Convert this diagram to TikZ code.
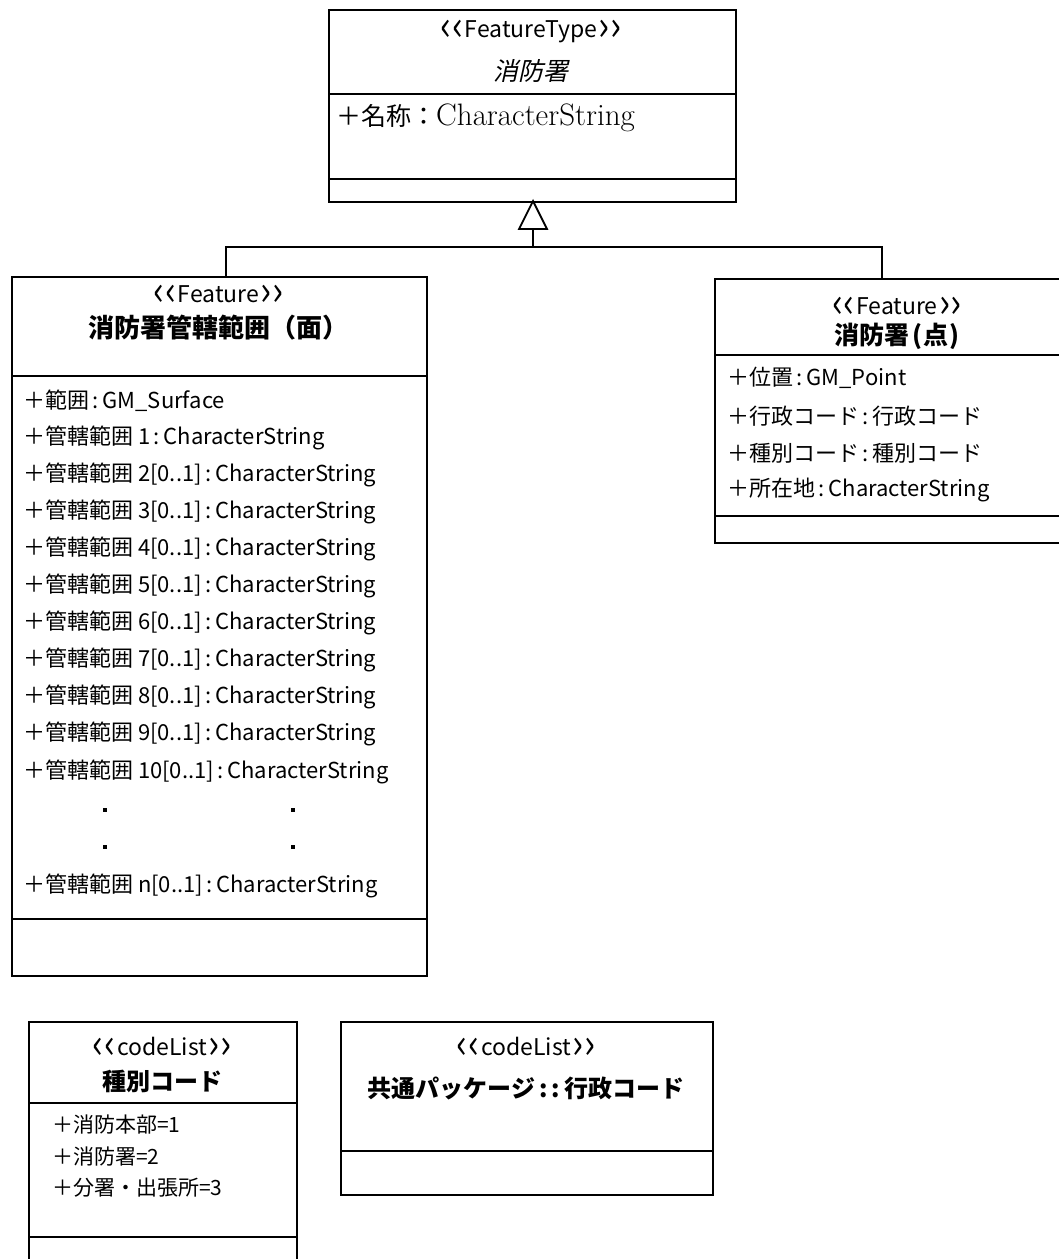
\documentclass[tikz,border=0pt]{standalone}
\usepackage{graphicx}
\usepackage{fontspec}
\setmainfont{Noto Sans CJK JP}
\newfontfamily\jpslant{Noto Sans CJK JP}[FakeSlant=0.22]
\newcommand{\lch}{\raisebox{-0.13em}{\scalebox{1.6}[1.8]{‹}}}
\newcommand{\rch}{\raisebox{-0.13em}{\scalebox{1.6}[1.8]{›}}}
\newcommand{\stq}[1]{\lch\kern0.03em\lch\kern0.06em #1\kern0.06em\rch\kern0.03em\rch}
\begin{document}
\begin{tikzpicture}[x=1pt,y=-1pt,
  boxline/.style={draw=black, line width=1.8pt},
  classbox/.style={boxline, inner sep=0pt, anchor=north west, fill=none},
  stereo/.style={inner sep=0pt, font=\fontsize{23}{27}\selectfont},
  titleb/.style={inner sep=0pt, font=\fontsize{25}{30}\selectfont\bfseries},
  attr/.style={inner sep=0pt, anchor=west, font=\fontsize{22}{26}\selectfont},
  cattr/.style={inner sep=0pt, anchor=west, font=\fontsize{21}{25}\selectfont},
  dotmark/.style={fill=black, inner sep=0pt, minimum size=4pt},
  conn/.style={draw=black, line width=1.8pt},
  gentip/.style={draw=black, line width=1.8pt, fill=white}
]
\useasboundingbox (0,0) rectangle (1059,1259);
\clip (0,0) rectangle (1059,1259);

% ---------- top class: FeatureType 消防署 ----------
\node[classbox, minimum width=407pt, minimum height=192pt] (ft) at (328,9) {};
\draw[boxline] (ft.west |- 0,94) -- (ft.east |- 0,94);
\draw[boxline] (ft.west |- 0,179) -- (ft.east |- 0,179);
\node[stereo] (ftst) at (531,32) {\stq{FeatureType}};
\node[inner sep=0pt, font=\fontsize{25}{30}\selectfont\jpslant] (ftti) at (531,71) {消防署};
\node[inner sep=0pt, anchor=west] (ftat) at (336,118)
  {\fontsize{25}{30}\selectfont ＋名称：\fontfamily{lmr}\fontsize{31}{35}\selectfont CharacterString};

% ---------- left class: 消防署管轄範囲(面) ----------
\node[classbox, minimum width=415pt, minimum height=699pt] (sa) at (11,276) {};
\draw[boxline] (sa.west |- 0,376) -- (sa.east |- 0,376);
\draw[boxline] (sa.west |- 0,919) -- (sa.east |- 0,919);
\node[stereo] (sast) at (218.5,295) {\stq{Feature}};
\node[titleb, font=\fontsize{26}{30}\selectfont\bfseries] (sati) at (218.5,328) {消防署管轄範囲（面）};
\node[attr] (sa0) at (23,401) {＋範囲\,:\,GM\_Surface};
\node[attr] (sa1) at (23,438) {＋管轄範囲 1\,:\,CharacterString};
\node[attr] (sa2) at (23,475) {＋管轄範囲 2[0..1]\,:\,CharacterString};
\node[attr] (sa3) at (23,512) {＋管轄範囲 3[0..1]\,:\,CharacterString};
\node[attr] (sa4) at (23,549) {＋管轄範囲 4[0..1]\,:\,CharacterString};
\node[attr] (sa5) at (23,586) {＋管轄範囲 5[0..1]\,:\,CharacterString};
\node[attr] (sa6) at (23,623) {＋管轄範囲 6[0..1]\,:\,CharacterString};
\node[attr] (sa7) at (23,660) {＋管轄範囲 7[0..1]\,:\,CharacterString};
\node[attr] (sa8) at (23,697) {＋管轄範囲 8[0..1]\,:\,CharacterString};
\node[attr] (sa9) at (23,734) {＋管轄範囲 9[0..1]\,:\,CharacterString};
\node[attr] (sa10) at (23,772) {＋管轄範囲 10[0..1]\,:\,CharacterString};
\node[dotmark] (da1) at (105,810) {};
\node[dotmark] (db1) at (293,810) {};
\node[dotmark] (da2) at (105,847) {};
\node[dotmark] (db2) at (293,847) {};
\node[attr] (san) at (23,886) {＋管轄範囲 n[0..1]\,:\,CharacterString};

% ---------- right class: 消防署(点) ----------
\node[classbox, minimum width=366pt, minimum height=264pt] (sp) at (714,278) {};
\draw[boxline] (sp.west |- 0,355) -- (sp.east |- 0,355);
\draw[boxline] (sp.west |- 0,516) -- (sp.east |- 0,516);
\node[stereo] (spst) at (897,307) {\stq{Feature}};
\node[titleb] (spti) at (897,336) {消防署\kern0.1em(\kern0.05em点\kern0.05em)};
\node[attr] (sp1) at (727,378) {＋位置\,:\,GM\_Point};
\node[attr] (sp2) at (727,416) {＋行政コード\,:\,行政コード};
\node[attr] (sp3) at (727,453) {＋種別コード\,:\,種別コード};
\node[attr] (sp4) at (727,490) {＋所在地\,:\,CharacterString};

% ---------- codeList 種別コード ----------
\node[classbox, minimum width=268pt, minimum height=260pt] (cl1) at (28,1021) {};
\draw[boxline] (cl1.west |- 0,1103) -- (cl1.east |- 0,1103);
\draw[boxline] (cl1.west |- 0,1237) -- (cl1.east |- 0,1237);
\node[stereo] (cl1st) at (162,1048) {\stq{codeList}};
\node[titleb, font=\fontsize{24}{28}\selectfont\bfseries] (cl1ti) at (162,1081) {種別コード};
\node[cattr] (cl1a) at (52,1125) {＋消防本部=1};
\node[cattr] (cl1b) at (52,1157) {＋消防署=2};
\node[cattr] (cl1c) at (52,1188) {＋分署・出張所=3};

% ---------- codeList 共通パッケージ::行政コード ----------
\node[classbox, minimum width=372pt, minimum height=173pt] (cl2) at (340,1021) {};
\draw[boxline] (cl2.west |- 0,1151) -- (cl2.east |- 0,1151);
\node[stereo] (cl2st) at (526,1048) {\stq{codeList}};
\node[titleb, font=\fontsize{24}{28}\selectfont\bfseries] (cl2ti) at (526,1088) {共通パッケージ\,:\,:\,行政コード};

% ---------- generalization ----------
\coordinate (apex) at (533,201);
\coordinate (tbase) at (533,229);
\coordinate (junc) at (533,247);
\draw[conn] (sa.north -| 226,0) -- (226,247) -- (882,247) -- (sp.north -| 882,0);
\draw[conn] (junc) -- (tbase);
\draw[gentip] (apex) -- (519,229) -- (547,229) -- cycle;
\end{tikzpicture}
\end{document}
